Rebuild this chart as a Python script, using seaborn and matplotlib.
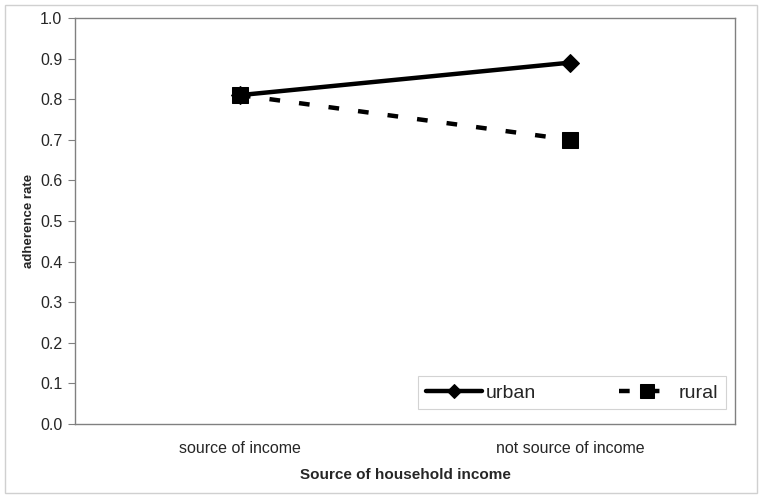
import matplotlib
matplotlib.use("Agg")
import matplotlib.pyplot as plt
import matplotlib.patches as mpatches
import pandas as pd
import seaborn as sns

# data
categories = ["source of income", "not source of income"]
urban = [0.81, 0.89]
rural = [0.81, 0.70]
y_ticks = [0.0, 0.1, 0.2, 0.3, 0.4, 0.5, 0.6, 0.7, 0.8, 0.9, 1.0]

df = pd.DataFrame({
    "source": categories * 2,
    "rate": urban + rural,
    "group": ["urban"] * len(categories) + ["rural"] * len(categories),
})

sns.set_style("white")
plt.rcParams["font.family"] = ["Liberation Sans", "DejaVu Sans"]

fig = plt.figure(figsize=(7.62, 4.98), dpi=100)
ax = fig.add_axes([0.0984, 0.1486, 0.8662, 0.8153])

sns.lineplot(data=df, x="source", y="rate", hue="group", style="group",
             palette={"urban": "black", "rural": "black"},
             markers={"urban": "D", "rural": "s"},
             dashes={"urban": "", "rural": (2.4, 4.3)},
             hue_order=["urban", "rural"], style_order=["urban", "rural"],
             linewidth=3.2, markersize=9, markeredgecolor="black",
             sort=False, ax=ax)

# rural squares are a bit bigger than the diamonds
for line in ax.get_lines():
    if line.get_marker() == "s":
        line.set_markersize(11)

ax.set_xlim(-0.5, 1.5)
ax.set_ylim(0, 1.0)
ax.set_yticks(y_ticks)
ax.set_yticklabels([f"{v:.1f}" for v in y_ticks], fontsize=11.5)
ax.set_xticks([0, 1])
ax.set_xticklabels(categories, fontsize=11.5)
ax.set_xticks([-0.5, 0.5, 1.5], minor=True)
ax.tick_params(axis="x", which="major", length=0, pad=12)
ax.tick_params(axis="x", which="minor", length=5, color="#808080", direction="out")
ax.tick_params(axis="y", length=5, color="#808080", direction="out", left=True, pad=4)

ax.set_xlabel("Source of household income", fontsize=11, fontweight="bold", labelpad=9)
ax.set_ylabel("adherence rate", fontsize=9.5, fontweight="bold", labelpad=4)

for side in ["left", "bottom", "top", "right"]:
    ax.spines[side].set_visible(True)
    ax.spines[side].set_color("#808080")
    ax.spines[side].set_linewidth(1.0)

leg = ax.legend(loc="lower right", bbox_to_anchor=(0.986, 0.036), ncol=2,
                fontsize=14, frameon=True, fancybox=False, handlelength=2.9,
                columnspacing=4.3, borderpad=0.4, handletextpad=0.15,
                borderaxespad=0)
leg.get_frame().set_edgecolor("#c8c8c8")
leg.get_frame().set_linewidth(0.8)
for h in leg.legend_handles:
    if h.get_marker() == "D":
        h.set_markersize(7)
    elif h.get_marker() == "s":
        h.set_markersize(10)

# light outer chart border
fig.patches.append(mpatches.Rectangle((5 / 762, 5 / 498), 752 / 762, 488 / 498,
                                      transform=fig.transFigure, fill=False,
                                      edgecolor="#d0d0d0", linewidth=1.0))

fig.savefig("out.png", dpi=100)
